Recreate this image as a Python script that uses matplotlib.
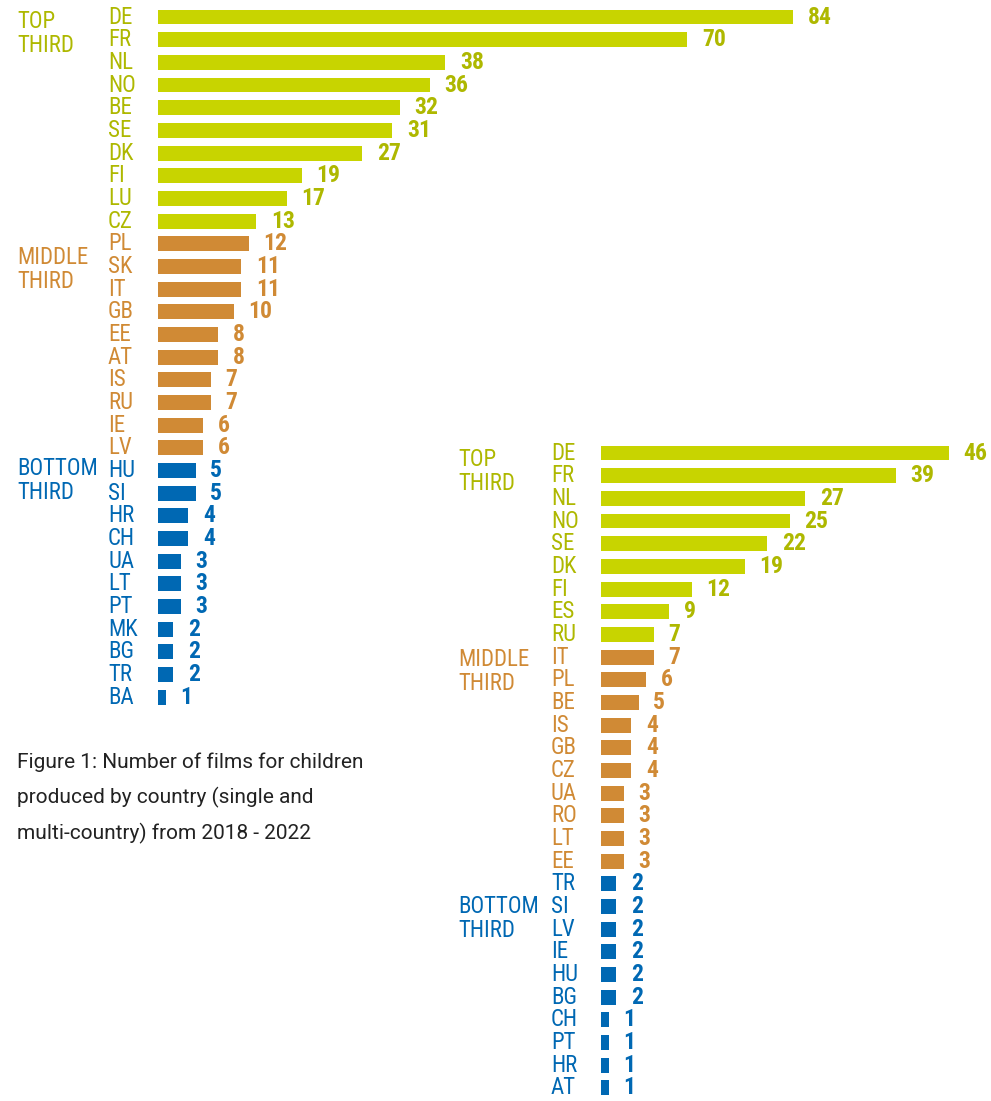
import matplotlib
matplotlib.use("Agg")
import matplotlib.pyplot as plt
from matplotlib.transforms import blended_transform_factory

# 2018-2022 totals (single and multi-country)
all_countries = ["DE", "FR", "NL", "NO", "BE", "SE", "DK", "FI", "LU", "CZ",
                 "PL", "SK", "IT", "GB", "EE", "AT", "IS", "RU", "IE", "LV",
                 "HU", "SI", "HR", "CH", "UA", "LT", "PT", "MK", "BG", "TR", "BA"]
all_values = [84, 70, 38, 36, 32, 31, 27, 19, 17, 13,
              12, 11, 11, 10, 8, 8, 7, 7, 6, 6,
              5, 5, 4, 4, 3, 3, 3, 2, 2, 2, 1]
all_groups = [0] * 10 + [1] * 10 + [2] * 11

# second ranking
sub_countries = ["DE", "FR", "NL", "NO", "SE", "DK", "FI", "ES", "RU",
                 "IT", "PL", "BE", "IS", "GB", "CZ", "UA", "RO", "LT", "EE",
                 "TR", "SI", "LV", "IE", "HU", "BG", "CH", "PT", "HR", "AT"]
sub_values = [46, 39, 27, 25, 22, 19, 12, 9, 7,
              7, 6, 5, 4, 4, 4, 3, 3, 3, 3,
              2, 2, 2, 2, 2, 2, 1, 1, 1, 1]
sub_groups = [0] * 9 + [1] * 10 + [2] * 10

group_names = ["TOP\nTHIRD", "MIDDLE\nTHIRD", "BOTTOM\nTHIRD"]
bar_colors = ["#C8D400", "#D08A35", "#0068B3"]
text_colors = ["#AEB800", "#D08A35", "#0068B3"]

caption = ("Figure 1: Number of films for children\n"
           "produced by country (single and\n"
           "multi-country) from 2018 - 2022")

W, H = 991, 1101
DPI = 100
ROW = 22.67       # px per row
UNIT = 7.56       # px per film
COND = ["Roboto Condensed", "DejaVu Sans Condensed", "Liberation Sans Narrow",
        "Noto Sans Condensed", "Open Sans Condensed", "Roboto"]

fig = plt.figure(figsize=(W / DPI, H / DPI), dpi=DPI)


def panel(countries, values, groups, bar_x, first_y, code_x, group_x, group_rows):
    n = len(countries)
    right = W - 2
    top = first_y - ROW / 2
    height = n * ROW
    ax = fig.add_axes([bar_x / W, 1 - (top + height) / H,
                       (right - bar_x) / W, height / H])
    ax.set_xlim(0, (right - bar_x) / UNIT)
    ax.set_ylim(n - 0.5, -0.5)
    ax.axis("off")

    ys = list(range(n))
    ax.barh(ys, values, height=0.66, color=[bar_colors[g] for g in groups])

    tr = blended_transform_factory(fig.transFigure, ax.transData)
    for y, c, v, g in zip(ys, countries, values, groups):
        ax.text(code_x / W, y, c, transform=tr, ha="left", va="center",
                fontsize=16.5, family=COND, fontstretch="condensed",
                color=text_colors[g])
        ax.annotate(str(v), xy=(v, y), xytext=(10.5, 0),
                    textcoords="offset points", ha="left", va="center",
                    fontsize=17, fontweight="bold", family=COND,
                    fontstretch="condensed", color=text_colors[g])

    for g, r in enumerate(group_rows):
        ax.text(group_x / W, r, group_names[g], transform=tr, ha="left",
                va="center", fontsize=16.5, family=COND, fontstretch="condensed",
                color=text_colors[g], linespacing=1.05)
    return ax


panel(all_countries, all_values, all_groups, 158, 17, 108, 17,
      [0.72, 11.15, 20.45])
panel(sub_countries, sub_values, sub_groups, 601, 453, 551, 458,
      [0.82, 9.62, 20.52])

fig.text(17 / W, 1 - 752 / H, caption, ha="left", va="top", fontsize=15,
         family=["Roboto", "DejaVu Sans"], color="#222222", linespacing=1.93)

fig.savefig("out.png", dpi=DPI, facecolor="white")
